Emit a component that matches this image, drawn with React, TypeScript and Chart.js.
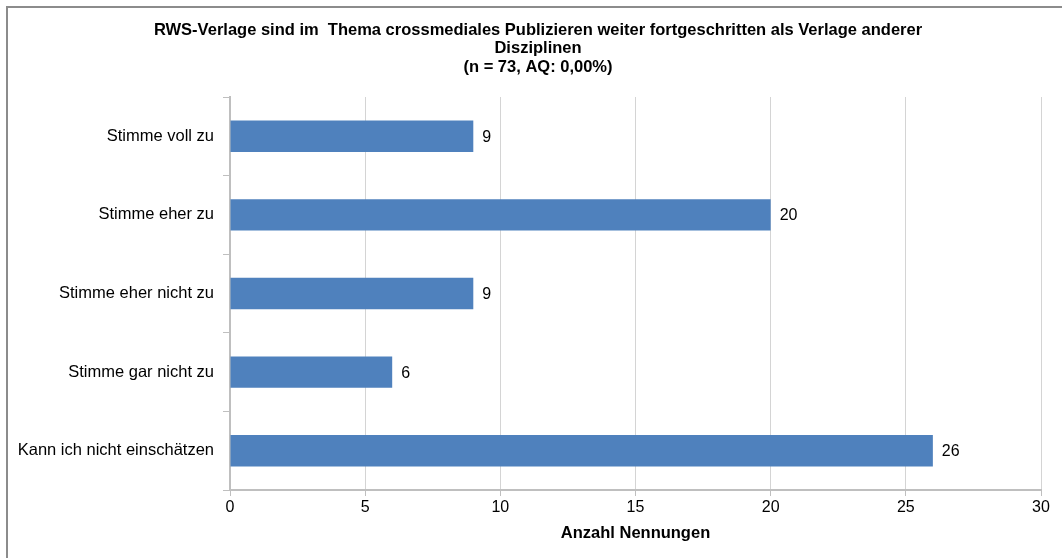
import React, { useEffect, useRef } from "react";
import { Chart, registerables } from "chart.js";

Chart.register(...registerables);

const categories = [
  "Stimme voll zu",
  "Stimme eher zu",
  "Stimme eher nicht zu",
  "Stimme gar nicht zu",
  "Kann ich nicht einschätzen",
];
const counts = [9, 20, 9, 6, 26];
const xTicks = [0, 5, 10, 15, 20, 25, 30];
const titleLines = [
  "RWS-Verlage sind im  Thema crossmediales Publizieren weiter fortgeschritten als Verlage anderer",
  "Disziplinen",
  "(n = 73, AQ: 0,00%)",
];
const xAxisTitle = "Anzahl Nennungen";

const FONT = "'Liberation Sans', Arial, sans-serif";

export default function App() {
  const ref = useRef<HTMLCanvasElement | null>(null);

  useEffect(() => {
    document.body.style.margin = "0";
    const canvas = ref.current;
    if (!canvas) return;

    const decor = {
      id: "decor",
      beforeDraw(chart: any) {
        const ctx = chart.ctx;
        ctx.save();
        ctx.fillStyle = "#ffffff";
        ctx.fillRect(0, 0, chart.width, chart.height);
        ctx.strokeStyle = "#8c8c8c";
        ctx.lineWidth = 2;
        ctx.beginPath();
        ctx.moveTo(7, chart.height);
        ctx.lineTo(7, 7);
        ctx.lineTo(chart.width, 7);
        ctx.stroke();
        ctx.restore();
      },
      afterDraw(chart: any) {
        const ctx = chart.ctx;
        const area = chart.chartArea;
        const cx = (area.left + area.right) / 2;
        ctx.save();
        ctx.fillStyle = "#000000";
        ctx.textAlign = "center";
        ctx.textBaseline = "middle";
        ctx.font = `bold 16.5px ${FONT}`;
        const ys = [30.5, 48.5, 67];
        titleLines.forEach((t, i) => ctx.fillText(t, 538, ys[i]));
        ctx.fillText(xAxisTitle, cx, 533);
        ctx.restore();
      },
      afterDatasetsDraw(chart: any) {
        const ctx = chart.ctx;
        const meta = chart.getDatasetMeta(0);
        ctx.save();
        ctx.fillStyle = "#000000";
        ctx.font = `16px ${FONT}`;
        ctx.textAlign = "left";
        ctx.textBaseline = "middle";
        meta.data.forEach((bar: any, i: number) => {
          ctx.fillText(String(counts[i]), bar.x + 9, bar.y + 1);
        });
        ctx.restore();
      },
    };

    const chart = new Chart(canvas, {
      type: "bar",
      data: {
        labels: categories,
        datasets: [
          {
            data: counts,
            backgroundColor: "#4F81BD",
            borderWidth: 0,
            categoryPercentage: 1,
            barPercentage: 0.4,
          },
        ],
      },
      options: {
        indexAxis: "y",
        animation: false,
        responsive: false,
        maintainAspectRatio: false,
        layout: { padding: { left: 0, top: 97, right: 21, bottom: 0 } },
        plugins: {
          legend: { display: false },
          title: { display: false },
          tooltip: { enabled: false },
        },
        scales: {
          x: {
            min: 0,
            max: 30,
            afterFit(scale: any) {
              scale.height = 68;
            },
            afterBuildTicks(scale: any) {
              scale.ticks = xTicks.map((v) => ({ value: v }));
            },
            grid: {
              color: "#d4d4d4",
              lineWidth: 1,
              tickLength: 6,
              tickColor: "#bfbfbf",
              drawOnChartArea: true,
            },
            border: { display: true, color: "#bfbfbf", width: 2 },
            ticks: {
              color: "#000000",
              font: { family: FONT, size: 16 },
              padding: 2,
              maxRotation: 0,
            },
          },
          y: {
            afterFit(scale: any) {
              scale.width = 230;
            },
            grid: {
              drawOnChartArea: false,
              tickLength: 7,
              color: "#bfbfbf",
              offset: true,
            },
            border: { display: true, color: "#bfbfbf", width: 2 },
            ticks: {
              color: "#000000",
              font: { family: FONT, size: 16.5 },
              padding: 9,
            },
          },
        },
      },
      plugins: [decor],
    } as any);

    return () => chart.destroy();
  }, []);

  return (
    <div style={{ position: "absolute", left: 0, top: 0, width: 1062, height: 558 }}>
      <canvas ref={ref} width={1062} height={558} style={{ display: "block" }} />
    </div>
  );
}
